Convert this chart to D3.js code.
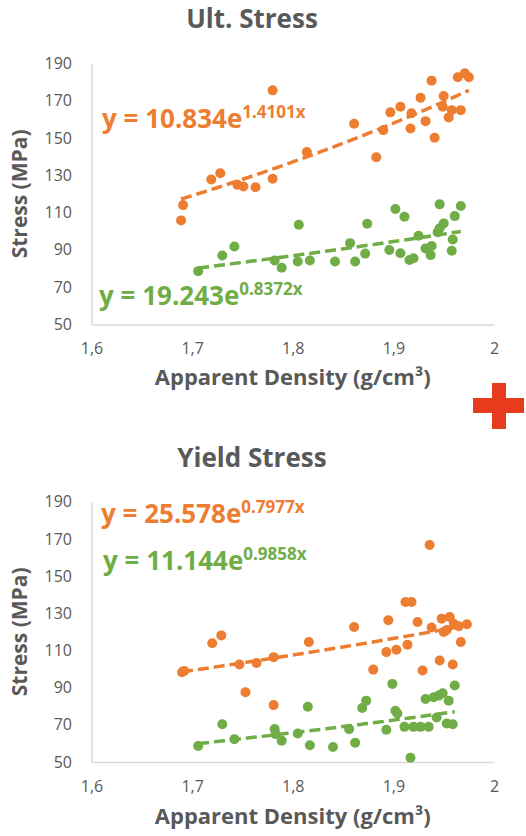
<!DOCTYPE html>
<html>
<head>
<meta charset="utf-8">
<script src="https://cdn.jsdelivr.net/npm/d3@7"></script>
<style>
  body { margin: 0; background: #fff; }
  text { font-family: "Open Sans", "DejaVu Sans", sans-serif; }
</style>
</head>
<body>
<svg id="chart" width="526" height="836"></svg>
<script>
// Axis ticks
const densityTicks = [1.6, 1.7, 1.8, 1.9, 2.0];
const densityTickLabels = ["1,6", "1,7", "1,8", "1,9", "2"];
const stressTicks = [50, 70, 90, 110, 130, 150, 170, 190];

// Ultimate stress – orange series
const ultOrangeDensity = [1.689, 1.691, 1.719, 1.728, 1.745, 1.751, 1.763, 1.780, 1.780, 1.814,
  1.861, 1.883, 1.890, 1.897, 1.907, 1.917, 1.918, 1.927, 1.932, 1.938, 1.941, 1.949, 1.950,
  1.955, 1.958, 1.964, 1.967, 1.971, 1.975];
const ultOrangeStress = [105.8, 114.0, 127.7, 131.1, 124.9, 124.0, 123.6, 175.5, 128.1, 142.4,
  157.6, 139.6, 154.2, 163.7, 166.7, 155.1, 163.2, 171.5, 159.0, 180.7, 150.1, 166.7, 172.5,
  161.0, 164.9, 182.5, 164.9, 184.6, 182.5];

// Ultimate stress – green series
const ultGreenDensity = [1.706, 1.730, 1.742, 1.782, 1.789, 1.805, 1.806, 1.817, 1.842, 1.857,
  1.862, 1.872, 1.874, 1.896, 1.902, 1.907, 1.911, 1.916, 1.920, 1.925, 1.932, 1.937, 1.938,
  1.944, 1.946, 1.946, 1.950, 1.958, 1.959, 1.961, 1.967];
const ultGreenStress = [78.6, 87.0, 91.8, 84.3, 80.4, 83.8, 103.5, 84.3, 83.8, 93.6,
  83.8, 88.0, 104.0, 89.9, 111.9, 88.2, 107.8, 84.6, 85.5, 97.6, 90.8, 87.2, 92.1,
  99.5, 114.4, 101.6, 104.2, 89.5, 95.6, 108.1, 113.5];

// Yield stress – orange series
const yieldOrangeDensity = [1.690, 1.692, 1.720, 1.729, 1.747, 1.753, 1.764, 1.781, 1.781, 1.816,
  1.861, 1.880, 1.893, 1.895, 1.903, 1.912, 1.914, 1.918, 1.924, 1.929, 1.936, 1.938, 1.946,
  1.948, 1.950, 1.953, 1.956, 1.959, 1.960, 1.965, 1.967, 1.973];
const yieldOrangeStress = [98.3, 99.0, 113.9, 118.1, 102.4, 87.5, 103.3, 106.4, 80.6, 114.5,
  122.6, 99.7, 109.1, 126.2, 110.4, 136.1, 113.1, 136.1, 125.3, 99.2, 166.7, 122.3, 104.6,
  127.1, 119.9, 121.0, 128.0, 102.4, 124.4, 123.0, 114.5, 124.1];

// Yield stress – green series
const yieldGreenDensity = [1.706, 1.730, 1.742, 1.782, 1.783, 1.789, 1.805, 1.815, 1.817, 1.840,
  1.856, 1.862, 1.869, 1.873, 1.893, 1.899, 1.902, 1.904, 1.911, 1.917, 1.920, 1.927, 1.932,
  1.935, 1.940, 1.943, 1.945, 1.949, 1.953, 1.955, 1.959, 1.961];
const yieldGreenStress = [58.6, 70.3, 62.3, 67.7, 65.0, 61.4, 65.3, 79.7, 59.0, 58.1,
  67.7, 60.4, 79.0, 83.0, 67.3, 92.0, 77.6, 76.1, 68.9, 52.3, 68.9, 68.9, 83.9,
  68.9, 84.8, 73.9, 85.7, 87.0, 70.7, 83.0, 70.3, 91.1];

// Exponential trendline coefficients y = a·e^(b·x)
const ultOrangeFit = [10.834, 1.4101];
const ultGreenFit = [19.243, 0.8372];
const yieldOrangeFit = [25.578, 0.7977];
const yieldGreenFit = [11.144, 0.9858];

const ORANGE = "#ED7D31";
const GREEN = "#70AD47";
const TEXT_GRAY = "#595959";

const svg = d3.select("#chart");

const fmtCoef = v => v.toFixed(3);
const fmtExp = v => v.toFixed(4);

function drawPanel(opts) {
  const left = 91.5, right = 494;
  const top = opts.top, bottom = opts.bottom;

  const x = d3.scaleLinear().domain([1.6, 2.0]).range([left, right]);
  const y = d3.scaleLinear().domain([50, 190]).range([bottom, top]);

  const g = svg.append("g");

  // Title
  g.append("text")
    .attr("x", 252).attr("y", opts.titleY)
    .attr("text-anchor", "middle")
    .attr("font-size", 26).attr("font-weight", 700)
    .attr("fill", TEXT_GRAY)
    .text(opts.title);

  // Y axis
  const yAxis = g.append("g")
    .attr("transform", `translate(${left},0)`)
    .call(d3.axisLeft(y).tickValues(stressTicks).tickSize(0).tickPadding(19.5));
  yAxis.select(".domain").attr("stroke", "#d9d9d9").attr("stroke-width", 1.5);
  yAxis.selectAll("text").attr("font-size", 16).attr("fill", TEXT_GRAY)
    .style("font-family", '"Open Sans", sans-serif');

  // X axis
  const xAxis = g.append("g")
    .attr("transform", `translate(0,${bottom})`)
    .call(d3.axisBottom(x).tickValues(densityTicks).tickSize(0).tickPadding(18.5)
      .tickFormat((d, i) => densityTickLabels[i]));
  xAxis.select(".domain").attr("stroke", "#d9d9d9").attr("stroke-width", 1.5);
  xAxis.selectAll("text").attr("font-size", 16).attr("fill", TEXT_GRAY)
    .style("font-family", '"Open Sans", sans-serif');

  // Axis titles
  g.append("text")
    .attr("transform", `translate(27,${(top + bottom) / 2}) rotate(-90)`)
    .attr("text-anchor", "middle")
    .attr("font-size", 21).attr("font-weight", 700)
    .attr("fill", TEXT_GRAY)
    .text("Stress (MPa)");

  g.append("text")
    .attr("x", (left + right) / 2).attr("y", opts.xTitleY)
    .attr("text-anchor", "middle")
    .attr("font-size", 22).attr("font-weight", 700)
    .attr("fill", TEXT_GRAY)
    .text("Apparent Density (g/cm³)");

  // Series: points and exponential trendlines
  opts.series.forEach(s => {
    const pts = s.density.map((d, i) => [d, s.stress[i]]);
    g.append("g").selectAll("circle")
      .data(pts).join("circle")
      .attr("cx", d => x(d[0])).attr("cy", d => y(d[1]))
      .attr("r", 5).attr("fill", s.color);

    const [a, b] = s.fit;
    const [x0, x1] = d3.extent(s.density);
    const curve = d3.range(0, 41).map(k => {
      const xv = x0 + (x1 - x0) * k / 40;
      return [xv, a * Math.exp(b * xv)];
    });
    g.append("path")
      .datum(curve)
      .attr("fill", "none")
      .attr("stroke", s.color)
      .attr("stroke-width", 3.5)
      .attr("stroke-dasharray", "11,5")
      .attr("d", d3.line().x(d => x(d[0])).y(d => y(d[1])));

    const eq = g.append("text")
      .attr("x", s.eqX).attr("y", s.eqY)
      .attr("fill", s.color).attr("font-weight", 700);
    eq.append("tspan").attr("font-size", 26).text(`y = ${fmtCoef(a)}e`);
    eq.append("tspan").attr("font-size", 17).attr("dy", -10).text(`${fmtExp(b)}x`);
  });
}

drawPanel({
  title: "Ult. Stress", titleY: 28, top: 63.3, bottom: 324.5, xTitleY: 385,
  series: [
    { density: ultOrangeDensity, stress: ultOrangeStress, fit: ultOrangeFit, color: ORANGE, eqX: 102, eqY: 128 },
    { density: ultGreenDensity, stress: ultGreenStress, fit: ultGreenFit, color: GREEN, eqX: 99, eqY: 305 }
  ]
});

drawPanel({
  title: "Yield Stress", titleY: 467, top: 501.7, bottom: 762, xTitleY: 824,
  series: [
    { density: yieldOrangeDensity, stress: yieldOrangeStress, fit: yieldOrangeFit, color: ORANGE, eqX: 101, eqY: 523 },
    { density: yieldGreenDensity, stress: yieldGreenStress, fit: yieldGreenFit, color: GREEN, eqX: 103, eqY: 570 }
  ]
});

// Red plus sign between the panels
const cross = svg.append("g").attr("fill", "#E63B1C");
cross.append("rect").attr("x", 492).attr("y", 383).attr("width", 14).attr("height", 46);
cross.append("rect").attr("x", 473).attr("y", 398).attr("width", 51).attr("height", 15);
</script>
</body>
</html>
